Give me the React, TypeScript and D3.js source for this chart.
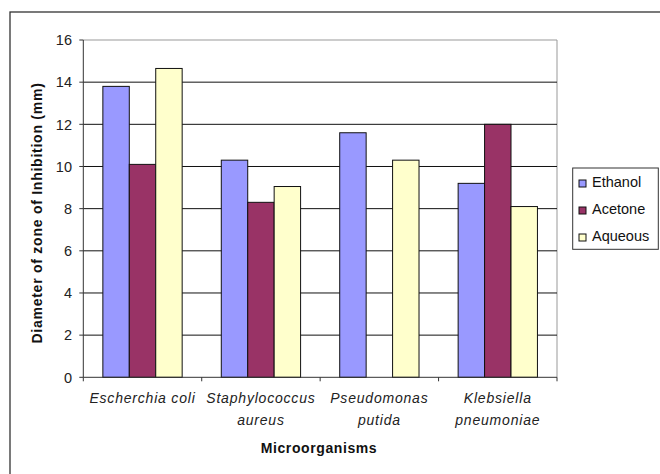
import React from "react";
import * as d3 from "d3";

const categories: string[][] = [
  ["Escherchia coli"],
  ["Staphylococcus", "aureus"],
  ["Pseudomonas", "putida"],
  ["Klebsiella", "pneumoniae"],
];
const seriesNames = ["Ethanol", "Acetone", "Aqueous"];
const seriesColors = ["#9999FF", "#993366", "#FFFFCC"];
const ethanol = [13.8, 10.3, 11.6, 9.2];
const acetone = [10.1, 8.3, 0, 12.0];
const aqueous = [14.65, 9.05, 10.3, 8.1];
const yTicks = [0, 2, 4, 6, 8, 10, 12, 14, 16];

const W = 660;
const H = 474;
const plot = { left: 83.3, right: 557, top: 40, bottom: 377.3 };

export default function App() {
  const values = [ethanol, acetone, aqueous];
  const catKeys = categories.map((c) => c.join(" "));
  const x0 = d3.scaleBand<string>().domain(catKeys).range([plot.left, plot.right]).padding(0);
  const x1 = d3
    .scaleBand<string>()
    .domain(seriesNames)
    .range([0, x0.bandwidth()])
    .paddingInner(0)
    .paddingOuter(0.74);
  const y = d3.scaleLinear().domain([0, 16]).range([plot.bottom, plot.top]);
  const font = "Arial, 'Liberation Sans', sans-serif";

  return (
    <svg
      width={W}
      height={H}
      style={{ position: "absolute", left: 0, top: 0, background: "#fff" }}
      fontFamily={font}
    >
      <rect x={10} y={12} width={W} height={H} fill="#fff" stroke="#333" strokeWidth={1.3} />
      {/* plot border */}
      <line x1={plot.left} x2={plot.right} y1={plot.top} y2={plot.top} stroke="#999" />
      <line x1={plot.right} x2={plot.right} y1={plot.top} y2={plot.bottom} stroke="#999" />
      {/* gridlines */}
      {yTicks.slice(1, -1).map((t) => (
        <line key={t} x1={plot.left} x2={plot.right} y1={y(t)} y2={y(t)} stroke="#111" strokeWidth={1} />
      ))}
      {/* bars */}
      {catKeys.map((c, ci) =>
        seriesNames.map((s, si) => {
          const v = values[si][ci];
          if (!v) return null;
          return (
            <rect
              key={c + s}
              x={(x0(c) ?? 0) + (x1(s) ?? 0)}
              y={y(v)}
              width={x1.bandwidth()}
              height={y(0) - y(v)}
              fill={seriesColors[si]}
              stroke="#111"
              strokeWidth={1}
            />
          );
        })
      )}
      {/* axes */}
      <line x1={plot.left} x2={plot.left} y1={plot.top} y2={plot.bottom} stroke="#333" />
      <line x1={plot.left} x2={plot.right} y1={plot.bottom} y2={plot.bottom} stroke="#333" />
      {yTicks.map((t) => (
        <g key={t}>
          <line x1={plot.left - 4} x2={plot.left} y1={y(t)} y2={y(t)} stroke="#333" />
          <text x={72} y={y(t)} dy="0.36em" textAnchor="end" fontSize={14.5} fill="#222">
            {t}
          </text>
        </g>
      ))}
      {catKeys.map((c) => (
        <line key={c} x1={x0(c)} x2={x0(c)} y1={plot.bottom} y2={plot.bottom + 4} stroke="#333" />
      ))}
      <line x1={plot.right} x2={plot.right} y1={plot.bottom} y2={plot.bottom + 4} stroke="#333" />
      {categories.map((lines, ci) => (
        <text
          key={ci}
          x={(x0(catKeys[ci]) ?? 0) + x0.bandwidth() / 2}
          y={403}
          textAnchor="middle"
          fontSize={14}
          letterSpacing={0.8}
          fontStyle="italic"
          fill="#222"
        >
          {lines.map((l, li) => (
            <tspan key={li} x={(x0(catKeys[ci]) ?? 0) + x0.bandwidth() / 2} dy={li === 0 ? 0 : 22}>
              {l}
            </tspan>
          ))}
        </text>
      ))}
      <text x={319} y={453} textAnchor="middle" fontSize={14} letterSpacing={0.6} fontWeight="bold" fill="#111">
        Microorganisms
      </text>
      <text
        transform={`translate(42,213) rotate(-90)`}
        textAnchor="middle"
        fontSize={14}
        letterSpacing={0.75}
        fontWeight="bold"
        fill="#111"
      >
        Diameter of zone of Inhibition (mm)
      </text>
      {/* legend */}
      <rect x={572.7} y={168} width={85.6} height={81.3} fill="#fff" stroke="#333" strokeWidth={1} />
      {seriesNames.map((s, i) => (
        <g key={s} transform={`translate(579,${182 + i * 27})`}>
          <rect x={0} y={-2} width={7} height={7} fill={seriesColors[i]} stroke="#111" />
          <text x={13} y={0} dy="0.36em" fontSize={14.5} fill="#111">
            {s}
          </text>
        </g>
      ))}
    </svg>
  );
}
